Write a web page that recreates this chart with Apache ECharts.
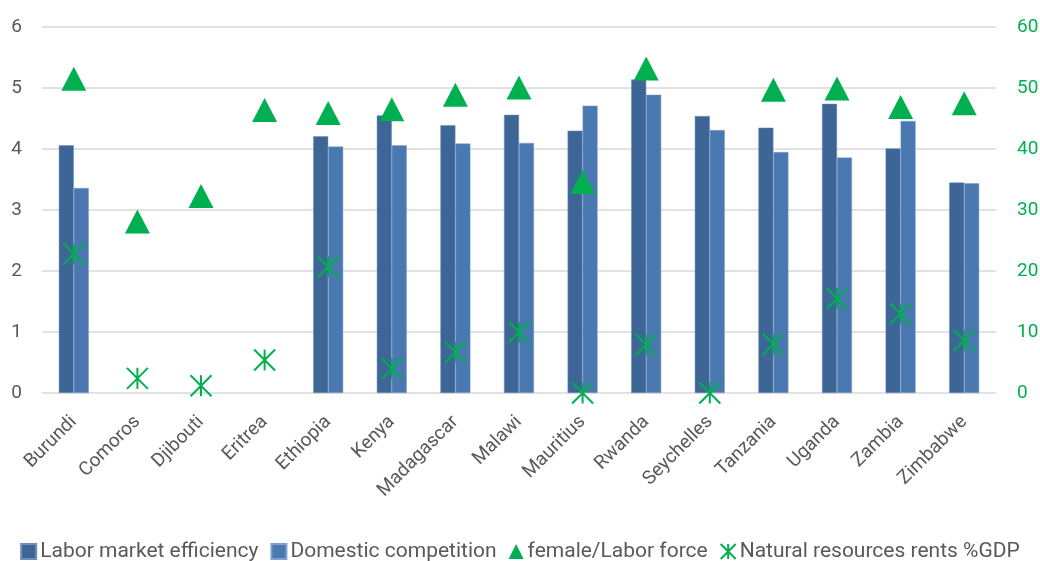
<!DOCTYPE html>
<html>
<head>
<meta charset="utf-8">
<script src="https://cdn.jsdelivr.net/npm/echarts@6/dist/echarts.min.js"></script>
<style>html,body{margin:0;padding:0;background:#fff}#c{width:1040px;height:561px}</style>
</head>
<body>
<div id="c"></div>
<script>
const categories = ['Burundi','Comoros','Djibouti','Eritrea','Ethiopia','Kenya','Madagascar','Malawi','Mauritius','Rwanda','Seychelles','Tanzania','Uganda','Zambia','Zimbabwe'];
const laborMarketEfficiency = [4.06, null, null, null, 4.21, 4.55, 4.39, 4.56, 4.30, 5.14, 4.54, 4.35, 4.74, 4.01, 3.45];
const domesticCompetition = [3.36, null, null, null, 4.04, 4.06, 4.09, 4.10, 4.71, 4.89, 4.31, 3.95, 3.86, 4.46, 3.44];
const femaleLaborForce = [51.5, 28.1, 32.3, 46.4, 45.9, 46.5, 48.9, 50.1, 34.6, 53.2, null, 49.7, 49.9, 46.9, 47.5];
const naturalResourcesRents = [22.8, 2.4, 1.2, 5.4, 20.7, 4.0, 6.7, 9.95, 0.0, 7.9, 0.0, 8.0, 15.5, 13.0, 8.6];
const leftTicks = [0, 1, 2, 3, 4, 5, 6];
const rightTicks = [0, 10, 20, 30, 40, 50, 60];

const FONT = "Roboto, 'Noto Sans', sans-serif";
const GREEN = '#00B050';
const chart = echarts.init(document.getElementById('c'), null, {renderer: 'canvas'});
chart.setOption({
  animation: false,
  textStyle: {fontFamily: FONT},
  grid: {left: 42, right: 44, top: 27, bottom: 168, containLabel: false, outerBoundsMode: 'none'},
  legend: {
    top: 536, left: 'center', itemGap: 12, itemWidth: 15, itemHeight: 15,
    textStyle: {fontFamily: FONT, fontSize: 21, color: '#595959', padding: [0, 0, 0, -1]},
    data: [
      {name: 'Labor market efficiency', icon: 'rect'},
      {name: 'Domestic competition', icon: 'rect'},
      {name: 'female/Labor force'},
      {name: 'Natural resources rents %GDP'}
    ]
  },
  xAxis: {
    type: 'category', data: categories,
    axisLine: {show: false}, axisTick: {show: false},
    axisLabel: {rotate: 45, fontFamily: FONT, fontSize: 19, color: '#595959', margin: 26, interval: 0}
  },
  yAxis: [
    {type: 'value', min: leftTicks[0], max: leftTicks[leftTicks.length - 1], interval: 1,
     axisLine: {show: false}, axisTick: {show: false},
     axisLabel: {fontFamily: FONT, fontSize: 19, color: '#595959', margin: 20},
     splitLine: {lineStyle: {color: '#D9D9D9', width: 1.5}}},
    {type: 'value', min: rightTicks[0], max: rightTicks[rightTicks.length - 1], interval: 10,
     axisLine: {show: false}, axisTick: {show: false},
     axisLabel: {fontFamily: FONT, fontSize: 19, color: GREEN, margin: 21},
     splitLine: {show: false}}
  ],
  series: [
    {name: 'Labor market efficiency', type: 'bar', data: laborMarketEfficiency, barWidth: 15, barGap: '0%',
     itemStyle: {color: '#3D6596', borderColor: '#6E8FBF', borderWidth: 0.5}},
    {name: 'Domestic competition', type: 'bar', data: domesticCompetition, barWidth: 15, barGap: '0%',
     itemStyle: {color: '#4A78B0', borderColor: '#7FA0CC', borderWidth: 0.5}},
    {name: 'female/Labor force', type: 'scatter', yAxisIndex: 1, data: femaleLaborForce,
     symbol: 'triangle', symbolSize: [25, 24], itemStyle: {color: GREEN, opacity: 1}, z: 5},
    {name: 'Natural resources rents %GDP', type: 'scatter', yAxisIndex: 1, data: naturalResourcesRents,
     symbol: 'path://M0,0L10,10M10,0L0,10M5,0L5,10', symbolSize: [21, 21],
     itemStyle: {color: 'rgba(0,0,0,0)', borderColor: GREEN, borderWidth: 2, opacity: 1}, z: 6}
  ]
});
</script>
</body>
</html>
